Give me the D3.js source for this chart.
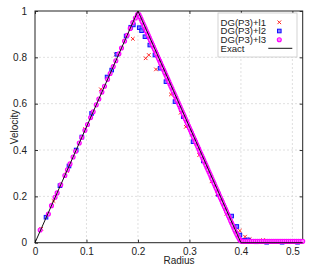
<!DOCTYPE html>
<head>
    <meta charset="utf-8">
    <style>
        body { margin: 0; background: #fff; }
        text { font-family: "Liberation Sans", Arial, sans-serif; }
    </style>
</head>
<body>
<div id="chart"></div>
<script src="https://d3js.org/d3.v7.min.js"></script>
<script>
// tick values
var xTicks = [0, 0.1, 0.2, 0.3, 0.4, 0.5];
var yTicks = [0, 0.2, 0.4, 0.6, 0.8, 1];

// exact solution
var exactR = [0, 0.2, 0.4, 0.52];
var exactV = [0, 1, 0, 0];

// DG(P3)+l1
var l1R = [0.012, 0.036, 0.062, 0.097, 0.128, 0.157, 0.19, 0.215, 0.221, 0.235, 0.264, 0.283,
           0.293, 0.319, 0.343, 0.354, 0.372, 0.398, 0.408, 0.417, 0.443, 0.47, 0.5];
var l1V = [0.06, 0.18, 0.31, 0.49, 0.662, 0.812, 0.88, 0.796, 0.81, 0.748, 0.64, 0.561,
           0.50, 0.378, 0.265, 0.209, 0.125, 0.052, 0.026, 0.015, 0.011, 0.003, 0.002];

// DG(P3)+l2
var l2R = [0.0214, 0.0485, 0.066, 0.080, 0.091, 0.110, 0.140, 0.149, 0.159, 0.177, 0.186, 0.191,
           0.2025, 0.207, 0.2136, 0.223, 0.233, 0.243, 0.2544, 0.272, 0.288, 0.307, 0.327, 0.356,
           0.382, 0.392, 0.398, 0.406, 0.414, 0.43, 0.45, 0.48, 0.51];
var l2V = [0.11, 0.246, 0.331, 0.40, 0.456, 0.558, 0.715, 0.745, 0.813, 0.892, 0.93, 0.94,
           0.928, 0.915, 0.889, 0.853, 0.81, 0.753, 0.695, 0.609, 0.544, 0.436, 0.353, 0.209,
           0.115, 0.07, 0.033, 0.01, 0.012, 0.004, 0.002, 0.002, 0.002];

// DG(P3)+l3
var l3R = [0.010, 0.026, 0.032, 0.039, 0.043, 0.050, 0.058, 0.063, 0.068, 0.074, 0.079, 0.086,
           0.091, 0.097, 0.102, 0.108, 0.113, 0.119, 0.124, 0.130, 0.135, 0.141, 0.146, 0.152,
           0.157, 0.163, 0.168, 0.174, 0.179, 0.185, 0.190, 0.195, 0.199,
           0.202, 0.206, 0.210, 0.214, 0.218, 0.222, 0.226, 0.230, 0.234, 0.238, 0.242, 0.246,
           0.250, 0.254, 0.258, 0.262, 0.266, 0.270, 0.274, 0.278, 0.282, 0.286, 0.290, 0.294,
           0.298, 0.302, 0.306, 0.310, 0.314, 0.318, 0.322, 0.326, 0.330, 0.334, 0.338, 0.342,
           0.346, 0.350, 0.354, 0.358, 0.362, 0.366, 0.370, 0.374, 0.378, 0.382, 0.386, 0.390,
           0.394, 0.398,
           0.204, 0.208, 0.212, 0.216, 0.220, 0.224, 0.228, 0.232, 0.236, 0.240, 0.244, 0.248,
           0.252, 0.256, 0.260, 0.264, 0.268, 0.272, 0.276, 0.280, 0.284, 0.288, 0.292, 0.296,
           0.300, 0.304, 0.308, 0.312, 0.316, 0.320, 0.324, 0.328, 0.332, 0.336, 0.340, 0.344,
           0.348, 0.352, 0.356, 0.360, 0.364, 0.368, 0.372, 0.376, 0.380, 0.384, 0.388, 0.392,
           0.396, 0.400,
           0.402, 0.406, 0.410, 0.414, 0.418, 0.422, 0.426, 0.430, 0.434, 0.438, 0.442, 0.446,
           0.450, 0.454, 0.458, 0.462, 0.466, 0.470, 0.474, 0.478, 0.482, 0.486, 0.490, 0.494,
           0.498, 0.502, 0.506, 0.510, 0.514, 0.518,
           0.404, 0.408, 0.412, 0.416, 0.420, 0.424, 0.428, 0.432, 0.436, 0.440, 0.444, 0.448,
           0.452, 0.456, 0.460, 0.464, 0.468, 0.472, 0.476, 0.480, 0.484, 0.488, 0.492, 0.496,
           0.500, 0.504, 0.508, 0.512, 0.516, 0.520];
var l3V = [0.055, 0.124, 0.160, 0.196, 0.215, 0.25, 0.29, 0.315, 0.34, 0.37, 0.395, 0.43,
           0.455, 0.485, 0.51, 0.54, 0.565, 0.595, 0.62, 0.65, 0.675, 0.705, 0.73, 0.76,
           0.785, 0.815, 0.84, 0.87, 0.895, 0.925, 0.95, 0.97, 0.985,
           0.985, 0.965, 0.945, 0.925, 0.905, 0.885, 0.865, 0.845, 0.825, 0.805, 0.785, 0.765,
           0.745, 0.725, 0.705, 0.685, 0.665, 0.645, 0.625, 0.605, 0.585, 0.565, 0.545, 0.525,
           0.505, 0.485, 0.465, 0.445, 0.425, 0.405, 0.385, 0.365, 0.345, 0.325, 0.305, 0.285,
           0.265, 0.245, 0.225, 0.205, 0.185, 0.165, 0.145, 0.125, 0.105, 0.085, 0.065, 0.045,
           0.028, 0.012,
           0.975, 0.955, 0.935, 0.915, 0.895, 0.875, 0.855, 0.835, 0.815, 0.795, 0.775, 0.755,
           0.735, 0.715, 0.695, 0.675, 0.655, 0.635, 0.615, 0.595, 0.575, 0.555, 0.535, 0.515,
           0.495, 0.475, 0.455, 0.435, 0.415, 0.395, 0.375, 0.355, 0.335, 0.315, 0.295, 0.275,
           0.255, 0.235, 0.215, 0.195, 0.175, 0.155, 0.135, 0.115, 0.095, 0.075, 0.055, 0.036,
           0.02, 0.008,
           0.006, 0.005, 0.005, 0.005, 0.005, 0.005, 0.005, 0.005, 0.005, 0.005, 0.005, 0.005,
           0.005, 0.005, 0.005, 0.005, 0.005, 0.005, 0.005, 0.005, 0.005, 0.005, 0.005, 0.005,
           0.005, 0.005, 0.005, 0.005, 0.005, 0.005,
           0.006, 0.006, 0.006, 0.006, 0.006, 0.006, 0.006, 0.006, 0.006, 0.006, 0.006, 0.006,
           0.006, 0.006, 0.006, 0.006, 0.006, 0.006, 0.006, 0.006, 0.006, 0.006, 0.006, 0.006,
           0.006, 0.006, 0.006, 0.006, 0.006, 0.006];

var legendNames = ["DG(P3)+l1", "DG(P3)+l2", "DG(P3)+l3", "Exact"];

var margin = {top: 11, right: 16.3, bottom: 24.3, left: 35},
    width = 319 - margin.left - margin.right,
    height = 267 - margin.top - margin.bottom;

var svg = d3.select("#chart").append("svg")
    .attr("width", 319)
    .attr("height", 267)
    .append("g")
    .attr("transform", "translate(" + margin.left + "," + margin.top + ")");

var x = d3.scaleLinear().domain([0, 0.52]).range([0, width]);
var y = d3.scaleLinear().domain([0, 1]).range([height, 0]);

// grid
svg.selectAll(".gx").data(xTicks.slice(1)).enter().append("line")
    .attr("x1", d => x(d)).attr("x2", d => x(d))
    .attr("y1", 0).attr("y2", height)
    .attr("stroke", "#d8d8d8").attr("stroke-dasharray", "2,2").attr("stroke-width", 0.8);
svg.selectAll(".gy").data(yTicks.slice(1, -1)).enter().append("line")
    .attr("x1", 0).attr("x2", width)
    .attr("y1", d => y(d)).attr("y2", d => y(d))
    .attr("stroke", "#d8d8d8").attr("stroke-dasharray", "2,2").attr("stroke-width", 0.8);

// axes with inward ticks
function styleAxis(g) {
    g.select(".domain").remove();
    g.selectAll(".tick line").attr("stroke", "#333");
    g.selectAll("text").attr("fill", "#222").style("font-size", "10px");
}
svg.append("g").attr("transform", "translate(0," + height + ")")
    .call(d3.axisBottom(x).tickValues(xTicks).tickSize(-3).tickPadding(5.5).tickFormat(d3.format("")))
    .call(styleAxis);
svg.append("g")
    .call(d3.axisTop(x).tickValues(xTicks).tickSize(-3).tickFormat(""))
    .call(styleAxis);
svg.append("g")
    .call(d3.axisLeft(y).tickValues(yTicks).tickSize(-3).tickPadding(8).tickFormat(d3.format("")))
    .call(styleAxis);
svg.append("g").attr("transform", "translate(" + width + ",0)")
    .call(d3.axisRight(y).tickValues(yTicks).tickSize(-3).tickFormat(""))
    .call(styleAxis);

// frame
svg.append("rect").attr("width", width).attr("height", height)
    .attr("fill", "none").attr("stroke", "#222").attr("stroke-width", 1);

// markers
function drawCross(g, cx, cy) {
    g.append("path")
        .attr("d", "M" + (cx - 1.8) + "," + (cy - 1.8) + "L" + (cx + 1.8) + "," + (cy + 1.8) +
                   "M" + (cx - 1.8) + "," + (cy + 1.8) + "L" + (cx + 1.8) + "," + (cy - 1.8))
        .attr("stroke", "#ff2020").attr("stroke-width", 1).attr("fill", "none");
}
function drawSquare(g, cx, cy) {
    g.append("rect").attr("x", cx - 1.8).attr("y", cy - 1.8).attr("width", 3.6).attr("height", 3.6)
        .attr("fill", "#8080ff").attr("stroke", "#1010ff").attr("stroke-width", 1);
}
function drawCircle(g, cx, cy) {
    g.append("circle").attr("cx", cx).attr("cy", cy).attr("r", 2)
        .attr("fill", "#ff80ff").attr("stroke", "#ff00ff").attr("stroke-width", 1.1);
}

var gl1 = svg.append("g");
l1R.forEach((r, i) => drawCross(gl1, x(r), y(l1V[i])));
var gl2 = svg.append("g");
l2R.forEach((r, i) => drawSquare(gl2, x(r), y(l2V[i])));
var gl3 = svg.append("g");
l3R.forEach((r, i) => drawCircle(gl3, x(r), y(l3V[i])));

// exact line
svg.append("path")
    .datum(exactR.map((r, i) => [r, exactV[i]]))
    .attr("d", d3.line().x(d => x(d[0])).y(d => y(d[1])))
    .attr("fill", "none").attr("stroke", "#111").attr("stroke-width", 1);

// axis titles
svg.append("text").attr("x", 179 - margin.left).attr("y", 264 - margin.top)
    .attr("text-anchor", "middle").attr("fill", "#222").style("font-size", "10px").text("Radius");
svg.append("text")
    .attr("transform", "translate(" + (17.5 - margin.left) + "," + (127 - margin.top) + ") rotate(-90)")
    .attr("text-anchor", "middle").attr("fill", "#222").style("font-size", "10px").text("Velocity");

// legend
var lg = svg.append("g").attr("transform", "translate(" + (-margin.left) + "," + (-margin.top) + ")");
lg.append("rect").attr("x", 218).attr("y", 13).attr("width", 79).attr("height", 44)
    .attr("fill", "#fff").attr("stroke", "#c8c8c8").attr("stroke-width", 0.8);
var rowY = [22.3, 31, 39.7, 48.3];
legendNames.forEach(function(name, i) {
    lg.append("text").attr("x", 220.5).attr("y", rowY[i]).attr("dy", "0.35em")
        .attr("fill", "#222").style("font-size", "9.6px").text(name);
});
drawCross(lg, 279.3, rowY[0]);
drawSquare(lg, 279.3, rowY[1]);
drawCircle(lg, 279.3, rowY[2]);
lg.append("line").attr("x1", 268.3).attr("x2", 292.3).attr("y1", rowY[3]).attr("y2", rowY[3])
    .attr("stroke", "#111").attr("stroke-width", 1);
</script>
</body>
